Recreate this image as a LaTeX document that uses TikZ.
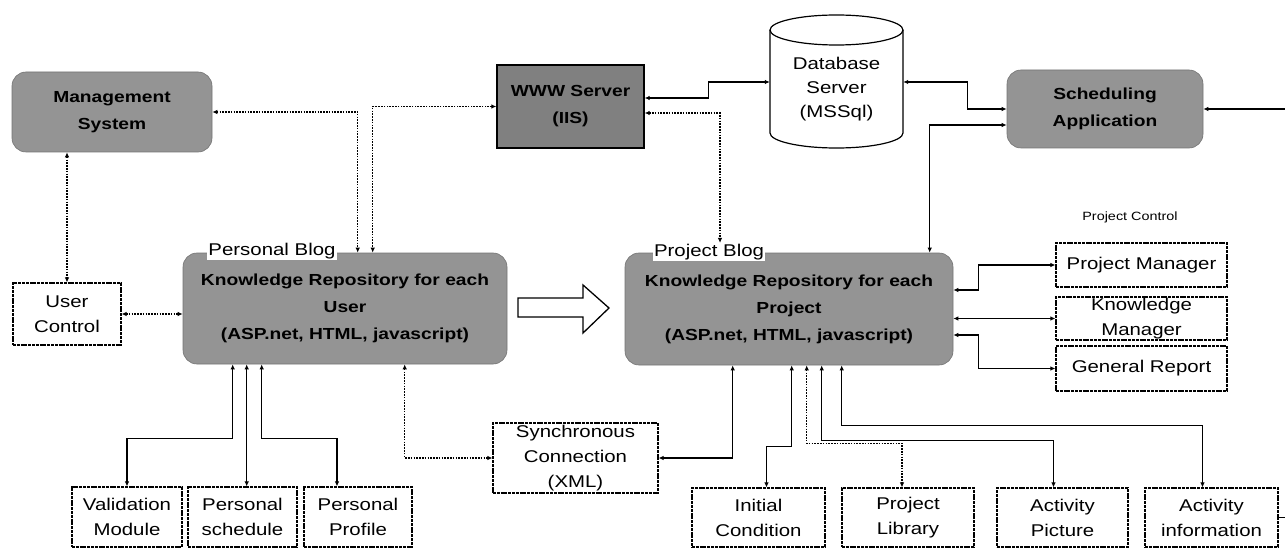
\documentclass[tikz,border=0pt]{standalone}
\usepackage{fontspec}
\setmainfont{Liberation Sans}
\newfontfamily\plainfont[FakeStretch=1.2]{Liberation Sans}
\usetikzlibrary{arrows.meta,calc}

\tikzset{
  graybox/.style={draw=black!55, line width=0.6pt, fill=black!42, rounded corners=14pt,
    inner sep=0pt, align=center, font=\plainfont\bfseries\fontsize{16}{27}\selectfont},
  serverbox/.style={draw=black, line width=1.3pt, fill=black!50, inner sep=0pt,
    align=center, font=\plainfont\bfseries\fontsize{16}{27}\selectfont},
  whitebox/.style={draw=black, line width=1.1pt, dash pattern=on 3pt off 0.8pt, fill=white,
    inner sep=0pt, align=center, font=\plainfont\fontsize{17}{25}\selectfont},
  dbtext/.style={inner sep=0pt, align=center, font=\plainfont\fontsize{17}{24}\selectfont},
  bloglabel/.style={fill=white, inner sep=1pt, font=\plainfont\fontsize{17}{20}\selectfont},
  smalllabel/.style={inner sep=1pt, font=\plainfont\fontsize{12}{14}\selectfont},
  link/.style={line width=1.3pt, {Latex[length=5pt,width=4.5pt]}-{Latex[length=5pt,width=4.5pt]}},
  dotlink/.style={link, dash pattern=on 1.6pt off 1.2pt},
}

\begin{document}
\begin{tikzpicture}[x=1pt,y=-1pt]
\useasboundingbox (0,0) rectangle (1285,556);

% ---------- top row ----------
\node[graybox, minimum width=200pt, minimum height=80pt] (mgmt) at (112,112) {Management\\System};
\node[serverbox, minimum width=147pt, minimum height=83pt] (www) at (570.5,106.5) {WWW Server\\(IIS)};

% database cylinder
\draw[line width=1.2pt, fill=white] (770,30) -- (770,133)
  arc[start angle=180, end angle=0, x radius=66.5, y radius=15] -- (903,30)
  arc[start angle=0, end angle=-180, x radius=66.5, y radius=15] -- cycle;
\draw[line width=1.2pt] (770,30) arc[start angle=180, end angle=0, x radius=66.5, y radius=15];
\node[dbtext, minimum width=133pt, minimum height=118pt] (db) at (836.5,89) {Database\\Server\\(MSSql)};

\node[graybox, minimum width=196pt, minimum height=78pt] (sched) at (1105,109) {Scheduling\\Application};
\coordinate (edgeR) at (1285,109);

% ---------- middle row ----------
\node[whitebox, minimum width=108pt, minimum height=62pt] (ucontrol) at (67,314) {User\\Control};
\node[graybox, minimum width=324pt, minimum height=111pt] (pblog) at (345,308.5)
  {Knowledge Repository for each\\User\\(ASP.net, HTML, javascript)};
\node[bloglabel] (pblogl) at (272,251) {Personal Blog};

\node[graybox, minimum width=328pt, minimum height=112pt] (prblog) at (789,309)
  {Knowledge Repository for each\\Project\\(ASP.net, HTML, javascript)};
\node[bloglabel] (prblogl) at (709,252) {Project Blog};

% hollow transfer arrow
\draw[line width=1.3pt, fill=white, line join=miter]
  (518,298) -- (583,298) -- (583,285) -- (609,308) -- (583,333) -- (583,317) -- (518,317) -- cycle;

\node[smalllabel] (pcontrol) at (1130,217) {Project Control};
\node[whitebox, minimum width=171pt, minimum height=44pt] (pm) at (1141.5,265) {Project Manager};
\node[whitebox, minimum width=171pt, minimum height=43pt] (km) at (1141.5,318.5) {Knowledge\\Manager};
\node[whitebox, minimum width=171pt, minimum height=45pt] (gr) at (1141.5,368.5) {General Report};

% ---------- bottom row ----------
\node[whitebox, minimum width=110pt, minimum height=60pt] (valid) at (127,517) {Validation\\Module};
\node[whitebox, minimum width=109pt, minimum height=60pt] (psched) at (242.5,517) {Personal\\schedule};
\node[whitebox, minimum width=108pt, minimum height=60pt] (pprof) at (358,517) {Personal\\Profile};
\node[whitebox, minimum width=165pt, minimum height=70pt] (sync) at (575.5,458) {Synchronous\\Connection\\(XML)};
\node[whitebox, minimum width=133pt, minimum height=59pt] (init) at (758.5,517.5) {Initial\\Condition};
\node[whitebox, minimum width=132pt, minimum height=59pt] (plib) at (908,517.5) {Project\\Library};
\node[whitebox, minimum width=131pt, minimum height=59pt] (apic) at (1062.5,517.5) {Activity\\Picture};
\node[whitebox, minimum width=133pt, minimum height=59pt] (ainfo) at (1211.5,517.5) {Activity\\information};
\coordinate (edgeB) at (1285,517.5);

% ---------- connectors ----------
% servers and management
\draw[dotlink] (mgmt.east) -| ([xshift=175pt]pblog.north west);
\draw[dotlink] (www.west) -| ([xshift=190pt]pblog.north west);
\draw[link] ([yshift=8.5pt]www.east) -- ++(64,0) |- ([yshift=7pt]db.west);
\draw[dotlink] ([yshift=-6.5pt]www.east) -| ([xshift=11pt]prblogl.north);
\draw[link] ([yshift=7pt]db.east) -- ++(64,0) |- (sched.west);
\draw[link] ([yshift=-16pt]sched.west) -| ([xshift=305pt]prblog.north west);
\draw[line width=1.3pt, -{Latex[length=5pt,width=4.5pt]}] (edgeR) -- (sched.east);

% user control
\draw[dotlink] (ucontrol.north |- mgmt.south) -- (ucontrol.north);
\draw[dotlink] (ucontrol.east) -- (ucontrol.east -| pblog.west);

% personal blog modules
\draw[link] ([xshift=50pt]pblog.south west) -- ++(0,74) -| (valid.north);
\draw[link] ([xshift=64pt]pblog.south west) -- ([xshift=64pt]pblog.south west |- psched.north);
\draw[link] ([xshift=79pt]pblog.south west) -- ++(0,74) -| ([xshift=-21pt]pprof.north);
\draw[dotlink] ([xshift=222pt]pblog.south west) |- (sync.west);
\draw[link] (sync.east) -| ([xshift=108pt]prblog.south west);

% project blog modules
\draw[link] ([xshift=167pt]prblog.south west) -- ++(0,81) -| ([xshift=8pt]init.north);
\draw[dotlink] ([xshift=182pt]prblog.south west) -- ++(0,78) -| ([xshift=-6pt]plib.north);
\draw[link] ([xshift=197pt]prblog.south west) -- ++(0,75) -| ([xshift=-9pt]apic.north);
\draw[link] ([xshift=217pt]prblog.south west) -- ++(0,60) -| ([xshift=-9pt]ainfo.north);
\draw[line width=1.3pt] (ainfo.east) -- (edgeB);

% project control
\draw[link] ([yshift=19pt]prblog.east) -- ++(25,0) |- (pm.west);
\draw[link] (km.west -| prblog.east) -- (km.west);
\draw[link] ([yshift=-26pt]prblog.east) -- ++(25,0) |- (gr.west);
\end{tikzpicture}
\end{document}
